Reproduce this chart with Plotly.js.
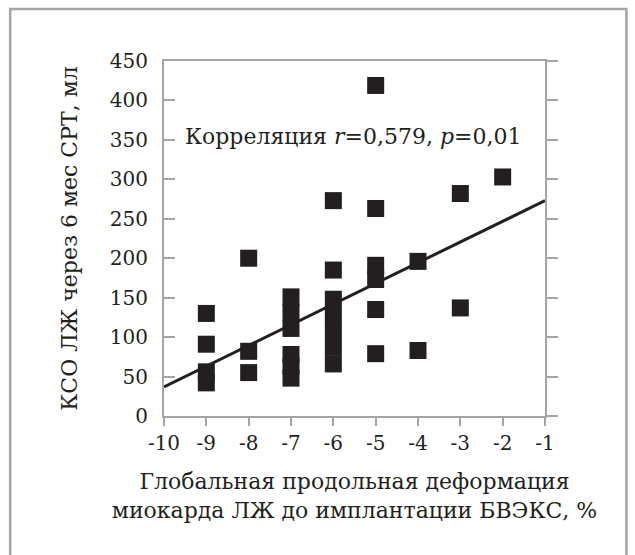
<!DOCTYPE html>
<html>
<head>
<meta charset="utf-8">
<script src="https://cdn.plot.ly/plotly-3.0.1.min.js"></script>
<style>
html,body{margin:0;padding:0;background:#fff;}
#chart{width:635px;height:555px;}
</style>
</head>
<body>
<div id="chart"></div>
<script>
// Global longitudinal strain (%) before CRT device implantation
const strainX = [-9, -9, -9, -9,
                 -8, -8, -8,
                 -7, -7, -7, -7, -7, -7,
                 -6, -6, -6, -6, -6, -6, -6,
                 -5, -5, -5, -5, -5, -5,
                 -4, -4,
                 -3, -3,
                 -2];
// LV end-systolic volume 6 months after CRT, ml
const esvY = [130, 91, 56, 42,
              200, 82, 55,
              151, 131, 111, 78, 63, 48,
              273, 185, 148, 128, 108, 87, 66,
              419, 263, 191, 173, 135, 79,
              196, 83,
              282, 137,
              303];
// Regression line endpoints
const fitX = [-10, -1];
const fitY = [37, 273];

const xTicks = [-10, -9, -8, -7, -6, -5, -4, -3, -2, -1];
const yTicks = [0, 50, 100, 150, 200, 250, 300, 350, 400, 450];

const annText = 'Корреляция <i>r</i>=0,579, <i>p</i>=0,01';
const xTitle = 'Глобальная продольная деформация<br>миокарда ЛЖ до имплантации БВЭКС, %';
const yTitle = 'КСО ЛЖ через 6 мес СРТ, мл';

const ink = '#231f20';
const axisGray = '#a3a4a8';
const serifFamily = 'DejaVu Serif';
const tickSize = 20;
const textSize = 22;

const traces = [
  {
    x: strainX, y: esvY, type: 'scatter', mode: 'markers',
    marker: {symbol: 'square', size: 17, color: ink, line: {width: 0}},
    hoverinfo: 'x+y', showlegend: false
  },
  {
    x: fitX, y: fitY, type: 'scatter', mode: 'lines', yaxis: 'y2',
    line: {color: ink, width: 3}, hoverinfo: 'skip', showlegend: false
  }
];

const layout = {
  width: 635, height: 555,
  margin: {l: 164, r: 89.5, t: 61, b: 139},
  paper_bgcolor: '#fff', plot_bgcolor: '#fff',
  font: {family: serifFamily, size: tickSize, color: ink},
  showlegend: false,
  xaxis: {
    range: [-10, -1], tickvals: xTicks, ticktext: xTicks.map(String),
    showgrid: false, zeroline: false,
    showline: true, linecolor: axisGray, linewidth: 2, mirror: true,
    ticks: 'outside', ticklen: 8, tickwidth: 2, tickcolor: axisGray,
    tickfont: {family: serifFamily, size: tickSize, color: ink},
    title: {text: xTitle, font: {family: serifFamily, size: textSize, color: ink}, standoff: 20}
  },
  yaxis: {
    range: [0, 450], tickvals: yTicks, ticktext: yTicks.map(String),
    showgrid: false, zeroline: false,
    showline: true, linecolor: axisGray, linewidth: 2,
    ticks: 'inside', ticklen: 11, tickwidth: 2, tickcolor: axisGray,
    tickfont: {family: serifFamily, size: tickSize, color: ink},
    ticklabelstandoff: 10,
    title: {text: yTitle, font: {family: serifFamily, size: textSize, color: ink}, standoff: 26}
  },
  yaxis2: {
    range: [0, 450], tickvals: yTicks, overlaying: 'y', side: 'right', anchor: 'x',
    showgrid: false, zeroline: false, showticklabels: false,
    showline: true, linecolor: axisGray, linewidth: 2,
    ticks: 'outside', ticklen: 11, tickwidth: 2, tickcolor: axisGray
  },
  annotations: [{
    x: -5.53, y: 354, xref: 'x', yref: 'y', text: annText, showarrow: false,
    xanchor: 'center', yanchor: 'middle',
    font: {family: serifFamily, size: textSize, color: ink}
  }],
  shapes: [{
    type: 'rect', xref: 'paper', yref: 'paper',
    x0: -0.4037, x1: 1.2136, y0: -0.45, y1: 1.1465,
    line: {color: '#a5a5a5', width: 2.5}, fillcolor: 'rgba(0,0,0,0)', layer: 'below'
  }]
};

Plotly.newPlot('chart', traces, layout, {displayModeBar: false, staticPlot: true});
</script>
</body>
</html>
